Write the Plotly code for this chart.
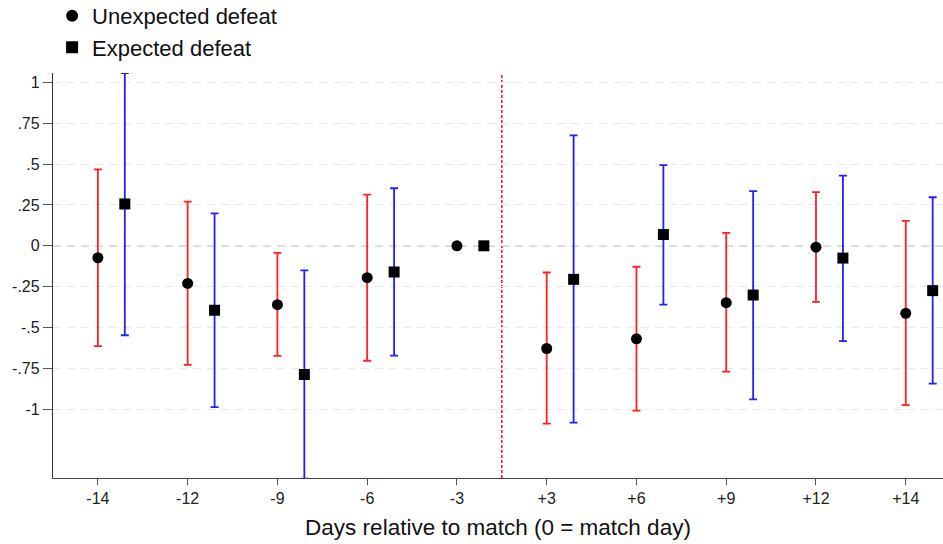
import plotly.graph_objects as go

# ---- data ----
day_labels = ["-14", "-12", "-9", "-6", "-3", "+3", "+6", "+9", "+12", "+14"]

unexp_est   = [-0.073, -0.230, -0.360, -0.195, 0.000, -0.628, -0.569, -0.348, -0.008, -0.413]
unexp_lower = [-0.614, -0.728, -0.673, -0.703, None, -1.087, -1.008, -0.770, -0.343, -0.974]
unexp_upper = [0.468, 0.270, -0.043, 0.313, None, -0.163, -0.128, 0.079, 0.329, 0.152]

exp_est   = [0.256, -0.394, -0.787, -0.160, 0.000, -0.205, 0.069, -0.301, -0.075, -0.274]
exp_lower = [-0.547, -0.986, -1.424, -0.671, None, -1.081, -0.360, -0.939, -0.583, -0.843]
exp_upper = [1.057, 0.199, -0.150, 0.352, None, 0.675, 0.494, 0.335, 0.429, 0.297]

y_tickvals = [-1, -0.75, -0.5, -0.25, 0, 0.25, 0.5, 0.75, 1]
y_ticktext = ["-1", "-.75", "-.5", "-.25", "0", ".25", ".5", ".75", "1"]

# ---- styling ----
RED = "#ff2020"
BLUE = "#2020ff"
FONT = "Liberation Sans, Arial, sans-serif"
offset = 0.3

def err(est, lo, hi):
    plus = [0 if h is None else h - e for e, h in zip(est, hi)]
    minus = [0 if l is None else e - l for e, l in zip(est, lo)]
    return plus, minus

x_idx = list(range(len(day_labels)))
u_plus, u_minus = err(unexp_est, unexp_lower, unexp_upper)
e_plus, e_minus = err(exp_est, exp_lower, exp_upper)

fig = go.Figure()
fig.add_trace(go.Scatter(
    x=x_idx, y=unexp_est, mode="markers", name="Unexpected defeat",
    marker=dict(symbol="circle", size=11, color="black"),
    error_y=dict(type="data", symmetric=False, array=u_plus, arrayminus=u_minus,
                 color=RED, thickness=1.8, width=4),
))
fig.add_trace(go.Scatter(
    x=[i + offset for i in x_idx], y=exp_est, mode="markers", name="Expected defeat",
    marker=dict(symbol="square", size=11, color="black"),
    error_y=dict(type="data", symmetric=False, array=e_plus, arrayminus=e_minus,
                 color=BLUE, thickness=1.8, width=4),
))

# zero reference line (dashed gray)
fig.add_shape(type="line", xref="paper", x0=0, x1=1, yref="y", y0=0, y1=0,
              line=dict(color="#a8a8a8", width=1.2, dash="8px,6px"), layer="below")
# vertical red dashed line at the match
fig.add_shape(type="line", xref="x", x0=4.5, x1=4.5, yref="paper", y0=0, y1=1,
              line=dict(color=RED, width=1.6, dash="3px,2px"), layer="below")

fig.update_layout(
    width=943, height=544,
    margin=dict(l=53, r=0, t=73, b=66, autoexpand=False),
    paper_bgcolor="white", plot_bgcolor="white",
    font=dict(family=FONT, color="#111"),
    showlegend=True,
    legend=dict(x=-0.001, y=1.193, xanchor="left", yanchor="top",
                font=dict(size=22, family=FONT, color="#111"),
                bgcolor="rgba(0,0,0,0)", tracegroupgap=0, itemsizing="constant"),
    xaxis=dict(
        range=[-0.5, 9.415], tickmode="array", tickvals=x_idx, ticktext=day_labels,
        showgrid=False, zeroline=False, showline=True, linecolor="#444", linewidth=1.3,
        ticks="outside", ticklen=6, tickcolor="#555", tickwidth=1.2,
        tickfont=dict(size=16, color="#222"),
        title=dict(text="Days relative to match (0 = match day)",
                   font=dict(size=22.5, color="#111"), standoff=12),
    ),
    yaxis=dict(
        range=[-1.42, 1.057], tickmode="array", tickvals=y_tickvals, ticktext=y_ticktext,
        showgrid=True, gridcolor="#e8e8e8", gridwidth=1, griddash="8px,6px",
        zeroline=False, showline=True, linecolor="#333", linewidth=1.3,
        ticks="outside", ticklen=9, tickcolor="#555", tickwidth=1.2,
        tickfont=dict(size=16, color="#222"),
    ),
)

fig.write_html("out.html")
